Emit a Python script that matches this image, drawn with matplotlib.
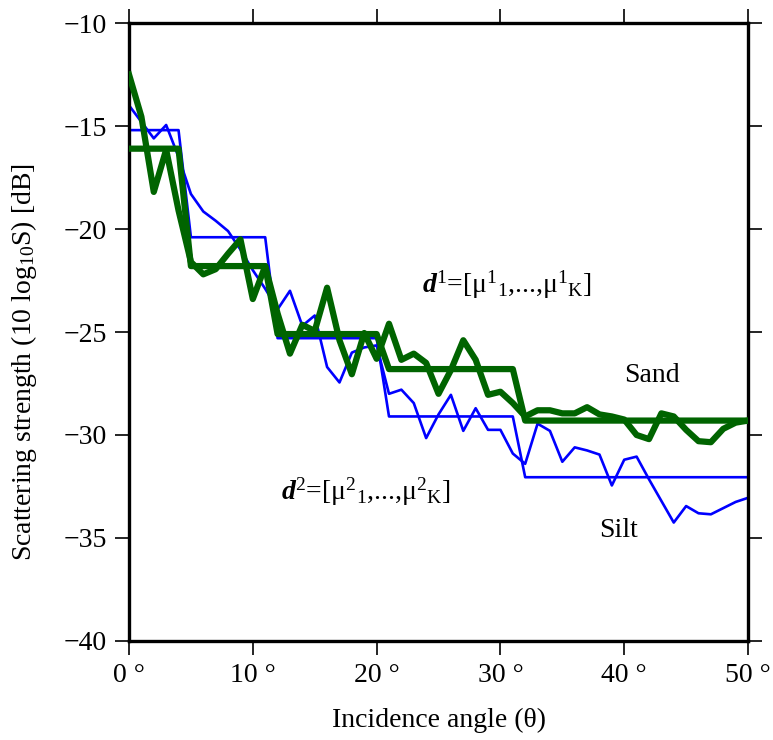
import numpy as np
import matplotlib
matplotlib.use("Agg")
import matplotlib.pyplot as plt

# incidence angle in degrees, one sample per degree
angles = np.arange(0, 51)

# measured scattering strength (dB)
silt_raw = [-14.0, -14.8, -15.6, -14.95, -16.5, -18.3, -19.15, -19.6, -20.1, -21.0,
            -22.0, -22.9, -23.9, -23.0, -24.7, -24.2, -26.7, -27.45, -26.0, -25.75,
            -25.65, -28.0, -27.8, -28.45, -30.15, -29.0, -28.05, -29.8, -28.7, -29.75,
            -29.75, -30.9, -31.4, -29.45, -29.8, -31.3, -30.6, -30.75, -30.95, -32.45,
            -31.2, -31.05, -32.15, -33.2, -34.25, -33.45, -33.8, -33.85, -33.55, -33.25,
            -33.05]
sand_raw = [-12.5, -14.55, -18.2, -16.15, -19.1, -21.6, -22.2, -21.95, -21.2, -20.5,
            -23.4, -21.8, -24.1, -26.05, -24.65, -24.95, -22.85, -25.4, -27.05, -25.05,
            -26.3, -24.6, -26.35, -26.05, -26.5, -28.0, -26.85, -25.4, -26.35, -28.05,
            -27.9, -28.45, -29.1, -28.8, -28.8, -28.95, -28.95, -28.65, -29.0, -29.1,
            -29.25, -30.0, -30.2, -28.95, -29.1, -29.75, -30.3, -30.35, -29.7, -29.4,
            -29.3]

# piecewise constant feature vectors (start angle of each segment, level)
seg_start = [0, 5, 12, 21, 32]
silt_levels = [-15.2, -20.4, -25.3, -29.1, -32.05]
sand_levels = [-16.1, -21.8, -25.1, -26.8, -29.3]


def expand(levels):
    idx = np.searchsorted(seg_start, angles, side="right") - 1
    return np.array(levels)[idx]


plt.rcParams["font.family"] = ["Liberation Serif", "DejaVu Serif"]
plt.rcParams["mathtext.fontset"] = "custom"
plt.rcParams["mathtext.rm"] = "Liberation Serif"
plt.rcParams["mathtext.it"] = "Liberation Serif:italic"
plt.rcParams["mathtext.bf"] = "Liberation Serif:bold"
plt.rcParams["mathtext.bfit"] = "Liberation Serif:italic:bold"

fig = plt.figure(figsize=(7.73, 7.40), dpi=100)
ax = fig.add_axes([0.1669, 0.1338, 0.8008, 0.8351])

blue = "#0000ff"
green = "#006400"
ax.plot(angles, silt_raw, color=blue, lw=1.9, zorder=2)
ax.plot(angles, expand(silt_levels), color=blue, lw=1.9, zorder=2)
ax.plot(angles, sand_raw, color=green, lw=4.5, zorder=3)
ax.plot(angles, expand(sand_levels), color=green, lw=4.5, zorder=3)

ax.set_xlim(0, 50)
ax.set_ylim(-40, -10)
xt = [0, 10, 20, 30, 40, 50]
ax.set_xticks(xt)
ax.set_xticklabels([f"{v} °" for v in xt])
ax.set_yticks(np.arange(-40, -9, 5))

ax.tick_params(direction="out", length=10, width=1.2, labelsize=20,
               top=True, right=True, pad=6)
for s in ax.spines.values():
    s.set_linewidth(2.4)

ax.set_xlabel("Incidence angle (θ)", fontsize=20, labelpad=14)
ax.set_ylabel(r"Scattering strength (10 log$_{10}$S) [dB]", fontsize=20)
ax.yaxis.set_label_coords(-0.145, 0.451)

ax.text(42.2, -27.1, "Sand", fontsize=20, ha="center", va="center")
ax.text(39.5, -34.66, "Silt", fontsize=20, ha="center", va="center")
ax.text(30.5, -22.7,
        r"$\mathbfit{d}^{1}$=[μ$^{1}{}_{1}$,...,μ$^{1}{}_{\mathrm{K}}$]",
        fontsize=20, ha="center", va="center")
ax.text(19.1, -32.77,
        r"$\mathbfit{d}^{2}$=[μ$^{2}{}_{1}$,...,μ$^{2}{}_{\mathrm{K}}$]",
        fontsize=20, ha="center", va="center")

fig.savefig("out.png", dpi=100)
